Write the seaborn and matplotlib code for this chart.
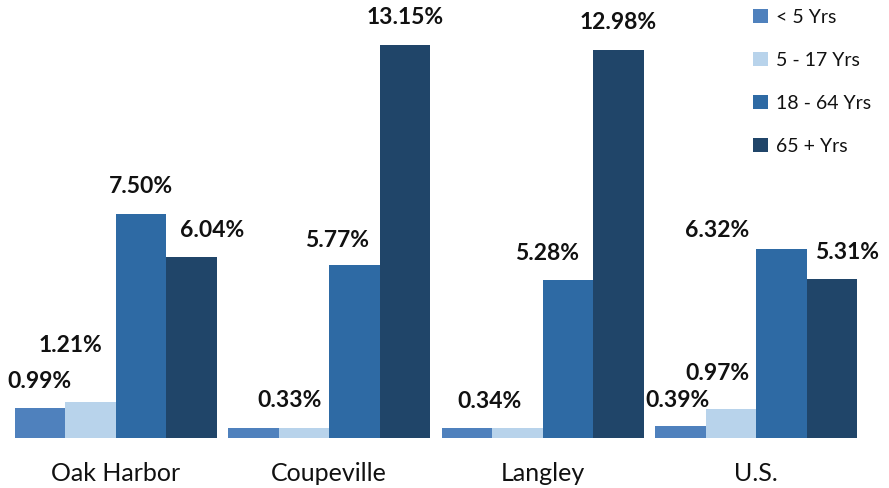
import matplotlib
matplotlib.use("Agg")
import matplotlib.pyplot as plt
import seaborn as sns
import pandas as pd

# ---- data ----
places = ["Oak Harbor", "Coupeville", "Langley", "U.S."]
age_groups = ["< 5 Yrs", "5 - 17 Yrs", "18 - 64 Yrs", "65 + Yrs"]
under5 = [0.99, 0.33, 0.34, 0.39]
age5_17 = [1.21, 0.33, 0.34, 0.97]
age18_64 = [7.50, 5.77, 5.28, 6.32]
age65 = [6.04, 13.15, 12.98, 5.31]

series = [under5, age5_17, age18_64, age65]
rows = []
for g, vals in zip(age_groups, series):
    for p, v in zip(places, vals):
        rows.append({"place": p, "group": g, "value": v})
df = pd.DataFrame(rows)

colors = ["#4F81BD", "#B8D3EB", "#2E6AA4", "#204569"]

sns.set_theme(style="white")
plt.rcParams["font.family"] = ["Lato", "DejaVu Sans"]

fig = plt.figure(figsize=(8.89, 4.88), dpi=100)
ax = fig.add_axes([9 / 889, 50 / 488, 854 / 889, 438 / 488])

sns.barplot(data=df, x="place", y="value", hue="group", order=places,
            hue_order=age_groups, palette=colors, width=0.947, ax=ax,
            saturation=1, linewidth=0, errorbar=None, legend=True)

ax.set_ylim(0, 14.65)
ax.set_xlim(-0.5, 3.5)
ax.set_xlabel("")
ax.set_ylabel("")
ax.set_yticks([])
for s in ax.spines.values():
    s.set_visible(False)
ax.tick_params(axis="x", length=0, pad=17, labelsize=18, labelcolor="#111111")

# label placement tweaks (pixel offsets: dx, dy above bar top), per series x place
dx = [[0, 0, 0, -3],
      [-20, -14, -28, -14],
      [0, -17, -21, -64],
      [21, 0, 0, 15]]
dy = [[27, 27, 27, 26],
      [56, 28, 26, 35],
      [27, 25, 27, 19],
      [27, 27, 27, 27]]
show = [[True, False, False, True],
        [True, True, True, True],
        [True, True, True, True],
        [True, True, True, True]]

for si, cont in enumerate(ax.containers):
    for pi, bar in enumerate(cont):
        if not show[si][pi]:
            continue
        v = series[si][pi]
        x = bar.get_x() + bar.get_width() / 2
        ax.annotate(f"{v:.2f}%", (x, bar.get_height()),
                    xytext=(dx[si][pi], dy[si][pi]), textcoords="offset pixels",
                    ha="center", va="center", fontsize=16.5, fontweight="bold",
                    color="#111111", annotation_clip=False)

leg = ax.legend(loc="upper left", bbox_to_anchor=(753 / 889, 1 - 9 / 488),
                bbox_transform=fig.transFigure, frameon=False, fontsize=14,
                handlelength=0.75, handleheight=0.75, handletextpad=0.45,
                labelspacing=1.33, borderaxespad=0, borderpad=0)
for t in leg.get_texts():
    t.set_color("#111111")

fig.savefig("out.png", dpi=100)
